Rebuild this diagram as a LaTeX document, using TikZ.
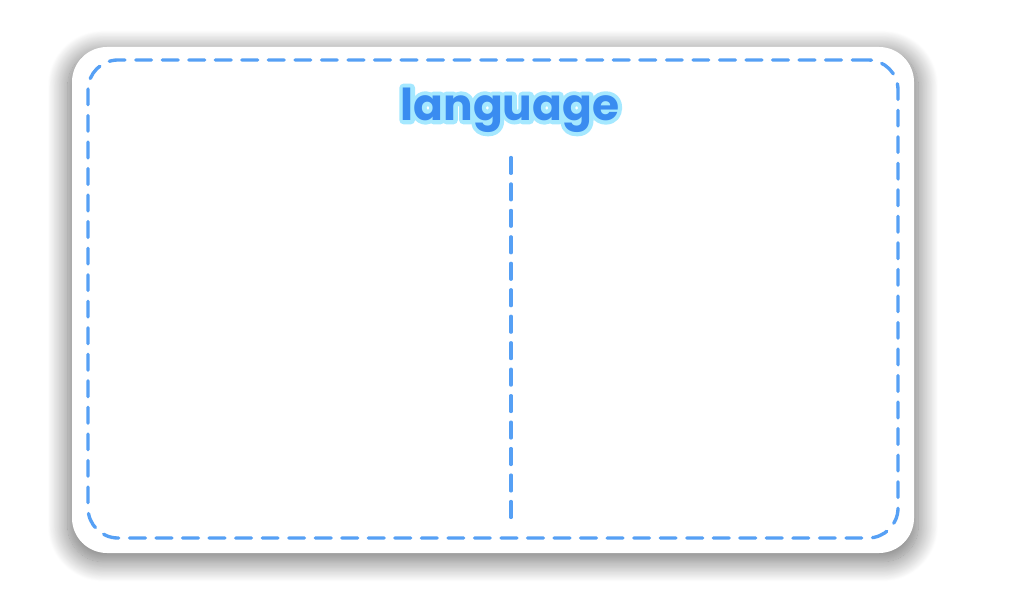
\documentclass[tikz,border=0pt]{standalone}
\usepackage{fontspec}
\usepackage{tikz}
\usetikzlibrary{calc}
\usetikzlibrary{positioning}
\usetikzlibrary{shadows.blur}
\newfontfamily\titlefont{Poppins}[UprightFont=* Bold]
\definecolor{dashblue}{RGB}{86, 160, 245}
\definecolor{titleblue}{RGB}{58, 140, 240}
\definecolor{glowcyan}{RGB}{165, 232, 255}
% outlined copy under the filled word
\newcommand{\glowtext}[1]{%
  \rlap{\special{pdf:literal direct 1 Tr 4.6 w 1 J 1 j 0.647 0.91 1 RG}#1\special{pdf:literal direct 0 Tr}}#1}
\tikzset{
    card/.style = {
      rectangle,
      rounded corners=0.7cm,
      fill=white,
      minimum width=16.84cm,
      minimum height=10.12cm,
      blur shadow={shadow xshift=0cm, shadow yshift=-0.12cm,
        shadow blur radius=0.4cm, shadow blur steps=25,
        shadow opacity=55, shadow scale=1.01}
    },
    frame/.style = {
      rectangle,
      draw=dashblue,
      line width=1.9pt,
      line cap=round,
      dash pattern=on 9pt off 6.1pt,
      rounded corners=0.6cm,
      minimum width=16.2cm,
      minimum height=9.56cm
    },
    divider/.style = {draw=dashblue, line width=1.9pt, line cap=round,
      dash pattern=on 9pt off 6.06pt},
    heading/.style = {
      font=\titlefont\fontsize{25}{28}\selectfont,
      text=titleblue,
      inner sep=0pt
    },
}
\begin{document}
\begin{tikzpicture}
  \useasboundingbox (0,0) rectangle (20.5,12);
  \node [card] (card) at (9.86,6) {};
  \node [frame] (frame) at (9.86,6.02) {};
  \node [heading] (title) at (10.2,9.8) {\glowtext{language}};

  \coordinate (divtop) at (10.22,8.85);
  \coordinate (divbot) at (10.22,1.65);
  \draw [divider] (divtop) -- (divbot);
\end{tikzpicture}
\end{document}
